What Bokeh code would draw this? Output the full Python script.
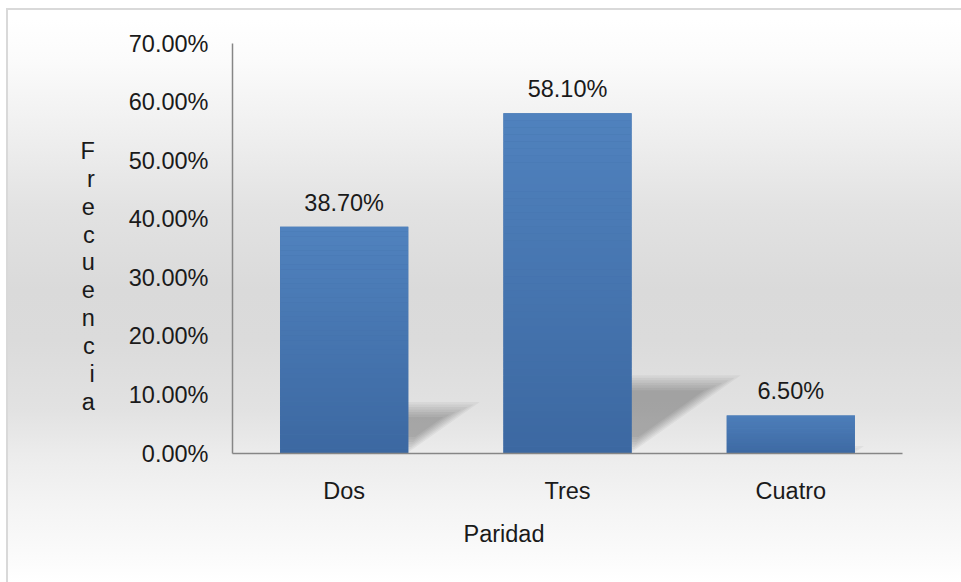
import numpy as np
from bokeh.plotting import figure
from bokeh.core.properties import value
from bokeh.models import (ColumnDataSource, Range1d, FixedTicker, NumeralTickFormatter,
                          LabelSet, Title)
from bokeh.embed import file_html
from bokeh.resources import INLINE

# --- data -------------------------------------------------------------
categories = ["Dos", "Tres", "Cuatro"]
values = [0.387, 0.581, 0.065]
y_ticks = [0.0, 0.1, 0.2, 0.3, 0.4, 0.5, 0.6, 0.7]
x_title = "Paridad"
y_title = "Frecuencia"

# --- style ------------------------------------------------------------
FONT = "Liberation Sans"
FS = "23.5px"
TEXT = "#1a1a1a"
AXIS = "#868686"
BAR_W = 0.574
TOP_RGB = np.array([80, 130, 190])
BOT_RGB = np.array([60, 104, 161])

W, H = 961, 582
LEFT, RIGHT, TOP, BOTTOM = 232, 59, 43, 129
FRAME_W = W - LEFT - RIGHT
FRAME_H = H - TOP - BOTTOM
Y_MAX = 0.7
XPX = FRAME_W / len(categories)   # pixels per x unit
YPX = FRAME_H / Y_MAX             # pixels per y unit

centers = [i + 0.5 for i in range(len(categories))]

p = figure(width=W, height=H, output_backend="svg", toolbar_location=None,
           x_range=Range1d(0, len(categories)), y_range=Range1d(0, Y_MAX),
           min_border_left=LEFT, min_border_right=RIGHT,
           min_border_top=TOP, min_border_bottom=BOTTOM)
p.background_fill_color = None
p.border_fill_color = None
p.outline_line_color = None
p.xgrid.visible = False
p.ygrid.visible = False

# chart-area backdrop: soft vertical gradient with a thin grey frame on the left/top
p.styles = {
    "background": (
        "linear-gradient(#d9d9d9, #d9d9d9) 6px 8px / 2px 100% no-repeat, "
        "linear-gradient(#d9d9d9, #d9d9d9) 6px 8px / 100% 2px no-repeat, "
        "linear-gradient(to bottom, #ffffff 0px, #ffffff 20px, #fbfbfb 60px, "
        "#eeeeee 140px, #e2e2e2 210px, #dadada 290px, #dbdbdb 340px, "
        "#e2e2e2 410px, #ececec 455px, #f4f4f4 505px, #fcfcfc 565px, #ffffff 582px) "
        "8px 0px / 100% 100% no-repeat, #ffffff"
    )
}

# --- cast shadows behind each bar (layered, inset polygons for a soft edge) ---
sx, sy = [], []
for cx, v in zip(centers, values):
    xl, xr = cx - BAR_W / 2, cx + BAR_W / 2
    h = 0.234 * v
    dx = 0.87 * v
    for k in range(7):
        e = 1.5 + k * 2.5
        ex, ey = e / XPX, e / YPX
        if h - 2 * ey <= 0:
            break
        sy.append([ey, ey, h - ey, h - ey])
        sx.append([xl + ex + dx * ey / h, xr - ex + dx * ey / h,
                   xr - ex + dx * (h - ey) / h, xl + ex + dx * (h - ey) / h])
p.patches(xs=sx, ys=sy, fill_color="black", fill_alpha=0.042, line_color=None)

# --- bars with a vertical colour ramp ---------------------------------
p.vbar(x=centers, top=values, width=BAR_W, fill_color="#4572aa", line_color=None)
N = 48
ql, qr, qb, qt, qc = [], [], [], [], []
for cx, v in zip(centers, values):
    for k in range(N):
        f = (k + 0.5) / N
        rgb = (BOT_RGB + (TOP_RGB - BOT_RGB) * f).round().astype(int)
        ql.append(cx - BAR_W / 2)
        qr.append(cx + BAR_W / 2)
        qb.append(v * k / N)
        qt.append(v * (k + 1) / N)
        qc.append("#%02x%02x%02x" % tuple(rgb))
p.quad(left=ql, right=qr, bottom=qb, top=qt, fill_color=qc, line_color=None)

# --- value labels -----------------------------------------------------
lab_src = ColumnDataSource(dict(x=centers, y=values,
                                text=[f"{v * 100:.2f}%" for v in values]))
p.add_layout(LabelSet(x="x", y="y", text="text", source=lab_src, y_offset=16,
                      text_align="center", text_baseline="alphabetic",
                      text_font=value(FONT), text_font_size=value(FS),
                      text_color=value(TEXT)))

# --- axes -------------------------------------------------------------
xa, ya = p.xaxis[0], p.yaxis[0]
xa.ticker = FixedTicker(ticks=centers)
xa.major_label_overrides = {c: name for c, name in zip(centers, categories)}
ya.ticker = FixedTicker(ticks=y_ticks)
ya.formatter = NumeralTickFormatter(format="0.00%")
for ax in (xa, ya):
    ax.axis_line_color = AXIS
    ax.axis_line_width = 1.5
    ax.major_tick_line_color = None
    ax.minor_tick_line_color = None
    ax.major_tick_out = 0
    ax.major_tick_in = 0
    ax.minor_tick_out = 0
    ax.minor_tick_in = 0
    ax.major_label_standoff = 24
    ax.major_label_text_font = FONT
    ax.major_label_text_font_size = FS
    ax.major_label_text_color = TEXT

# y title: letters stacked one per line, upright
ya.axis_label = "\n\n" + "\n".join(y_title)
ya.axis_label_orientation = "horizontal"
ya.axis_label_standoff = 31
ya.axis_label_text_align = "center"
ya.axis_label_text_line_height = 1.07
ya.axis_label_text_font = FONT
ya.axis_label_text_font_size = FS
ya.axis_label_text_font_style = "normal"
ya.axis_label_text_color = TEXT

# x title, placed under the category labels
p.add_layout(Title(text=x_title, align="left", offset=463 - LEFT, standoff=25,
                   text_font=FONT, text_font_size=FS, text_font_style="normal",
                   text_color=TEXT), "below")

open("out.html", "w").write(file_html(p, INLINE))
